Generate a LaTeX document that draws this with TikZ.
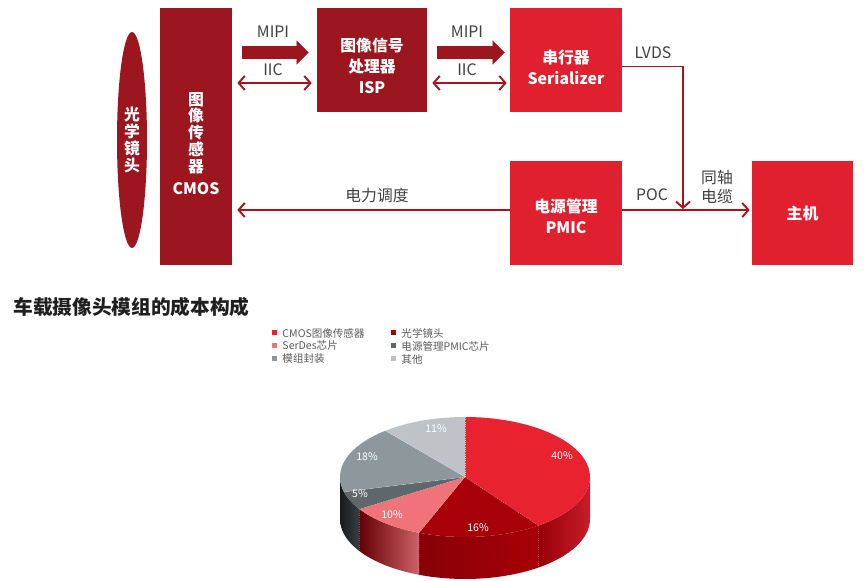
\documentclass[tikz,border=0pt]{standalone}
\usepackage{fontspec}
\setmainfont{Noto Sans CJK SC}
\usepackage{tikz}
\usetikzlibrary{positioning,shapes.geometric,arrows.meta,calc}

\definecolor{darkred}{HTML}{9C1620}
\definecolor{brightred}{HTML}{E0202E}
\definecolor{linered}{HTML}{A8141E}
\definecolor{labelgray}{HTML}{404040}
\definecolor{leggray}{HTML}{5A5A5A}
\definecolor{pieA}{HTML}{E8232F}
\definecolor{pieB}{HTML}{A80008}
\definecolor{pieC}{HTML}{F0737A}
\definecolor{pieD}{HTML}{5E686C}
\definecolor{pieE}{HTML}{8E979B}
\definecolor{pieF}{HTML}{BEC3C7}

\begin{document}
\begin{tikzpicture}[x=0.02cm, y=0.02cm,
  darkbox/.style={fill=darkred, inner sep=0pt},
  redbox/.style={fill=brightred, minimum width=2.24cm, minimum height=2.08cm, inner sep=0pt},
  boxtext/.style={text=white, align=center, font=\bfseries\fontsize{9}{11.8}\selectfont},
  fatarrow/.style={draw=darkred, line width=7.9pt, -{Triangle[length=6.8pt,width=13.6pt,line width=0.01pt]}},
  thinline/.style={draw=linered, line width=1.1pt},
  barb/.tip={Straight Barb[length=3.5pt,width=8pt]},
  sig/.style={text=labelgray, align=center, font=\fontsize{9}{11.3}\selectfont},
  legsq/.style={minimum size=0.1cm, inner sep=0pt},
  legtext/.style={text=leggray, inner sep=0pt, font=\fontsize{6}{7}\selectfont},
  pct/.style={text=white, font=\fontsize{6}{7}\selectfont}]

\useasboundingbox (0,0) rectangle (865,581);

% camera module
\node[ellipse, fill=darkred, minimum width=0.6cm, minimum height=4.32cm, inner sep=0pt,
      boxtext, font=\bfseries\fontsize{9}{9.6}\selectfont] (lens) at (132,441) {光\\学\\镜\\头};
\node[darkbox, minimum width=1.44cm, minimum height=5.14cm] (cmos) at (196,444.5) {};
\node[boxtext, font=\bfseries\fontsize{9}{9.6}\selectfont] (cmoslbl) at (196,437.5) {图\\像\\传\\感\\器\\[3pt]CMOS};
\node[darkbox, minimum width=2.2cm, minimum height=2.08cm] (isp) at (372,521) {};
\node[boxtext] (isplbl) at ($(isp)+(0,-6)$) {图像信号\\处理器\\ISP};
\node[redbox] (ser) at (566,521) {};
\node[boxtext] (serlbl) at ($(ser)+(0,-7)$) {串行器\\Serializer};
\node[redbox] (pmic) at (566,368) {};
\node[boxtext] (pmiclbl) at ($(pmic)+(0,-3)$) {电源管理\\PMIC};
\node[redbox, minimum width=2.02cm, boxtext] (host) at (802.5,368) {主机};

% links
\draw[fatarrow] ($(cmos.east |- isp.west)+(10,7.5)$) -- ($(isp.west)+(-8,7.5)$);
\draw[fatarrow] ($(isp.east)+(10,7.5)$) -- ($(ser.west)+(-5,7.5)$);
\draw[thinline, barb-barb] ($(cmos.east |- isp.west)+(5,-23)$) -- ($(isp.west)+(-5,-23)$);
\draw[thinline, barb-barb] ($(isp.east)+(5,-23)$) -- ($(ser.west)+(-3,-23)$);
\coordinate (join) at (683,372);
\draw[thinline, -barb] ($(ser.east)+(0,-6.5)$) -| (join);
\draw[thinline, -barb] ($(pmic.east)+(0,3)$) -- ($(host.west)+(-2,3)$);
\draw[thinline, -barb] ($(pmic.west)+(0,3)$) -- ($(pmic.west -| cmos.east)+(5,3)$);

\node[sig] (mipi1) at (273,549) {MIPI};
\node[sig] (mipi2) at (467,549) {MIPI};
\node[sig] (iic1) at (273,511) {IIC};
\node[sig] (iic2) at (467,511) {IIC};
\node[sig] (lvds) at (653,528) {LVDS};
\node[sig] (poc) at (652,386) {POC};
\node[sig] (coax) at (717,394) {同轴\\电缆};
\node[sig] (power) at (377,386) {电力调度};

% cost breakdown
\node[anchor=west, inner sep=0pt, text=black!88, font=\bfseries\fontsize{11.2}{13}\selectfont] (title) at (13,274) {车载摄像头模组的成本构成};

\node[legsq, fill=pieA] (sq1) at (274,248) {};
\node[legtext, right=3pt of sq1] (lg1) {CMOS图像传感器};
\node[legsq, fill=pieB] (sq2) at (393,248) {};
\node[legtext, right=3pt of sq2] (lg2) {光学镜头};
\node[legsq, fill=pieC] (sq3) at (274,235) {};
\node[legtext, right=3pt of sq3] (lg3) {SerDes芯片};
\node[legsq, fill=pieD] (sq4) at (393,235) {};
\node[legtext, right=3pt of sq4] (lg4) {电源管理PMIC芯片};
\node[legsq, fill=pieE] (sq5) at (274,222) {};
\node[legtext, right=3pt of sq5] (lg5) {模组封装};
\node[legsq, fill=pieF] (sq6) at (393,222) {};
\node[legtext, right=3pt of sq6] (lg6) {其他};

\begin{scope}[shift={(465,104)}]
  % sides
  \shade[left color=pieB!90!black, right color=pieA!85!black]
    plot[domain=-54:0, samples=20] ({125*cos(\x)},{60*sin(\x)}) --
    plot[domain=0:-54, samples=20] ({125*cos(\x)},{60*sin(\x)-42}) -- cycle;
  \shade[left color=pieB!80!black, right color=pieB]
    plot[domain=-111.6:-54, samples=20] ({125*cos(\x)},{60*sin(\x)}) --
    plot[domain=-54:-111.6, samples=20] ({125*cos(\x)},{60*sin(\x)-42}) -- cycle;
  \shade[left color=pieB!60!black, right color=pieC!85!black]
    plot[domain=-147.6:-111.6, samples=20] ({125*cos(\x)},{60*sin(\x)}) --
    plot[domain=-111.6:-147.6, samples=20] ({125*cos(\x)},{60*sin(\x)-42}) -- cycle;
  \shade[left color=black!90, right color=pieD!60!black]
    plot[domain=-180:-147.6, samples=20] ({125*cos(\x)},{60*sin(\x)}) --
    plot[domain=-147.6:-180, samples=20] ({125*cos(\x)},{60*sin(\x)-42}) -- cycle;
  % top face
  \fill[pieA] (0,0) -- plot[domain=90:-54, samples=40] ({125*cos(\x)},{60*sin(\x)}) -- cycle;
  \fill[pieB] (0,0) -- plot[domain=-54:-111.6, samples=20] ({125*cos(\x)},{60*sin(\x)}) -- cycle;
  \fill[pieC] (0,0) -- plot[domain=-111.6:-147.6, samples=20] ({125*cos(\x)},{60*sin(\x)}) -- cycle;
  \fill[pieD] (0,0) -- plot[domain=-147.6:-165.6, samples=10] ({125*cos(\x)},{60*sin(\x)}) -- cycle;
  \fill[pieE] (0,0) -- plot[domain=194.4:129.6, samples=20] ({125*cos(\x)},{60*sin(\x)}) -- cycle;
  \fill[pieF] (0,0) -- plot[domain=129.6:90, samples=20] ({125*cos(\x)},{60*sin(\x)}) -- cycle;
  % seams
  \foreach \a in {-54,-111.6,-147.6} {
    \draw[white, opacity=0.6, line width=0.3pt, densely dotted]
      (0,0) -- ({125*cos(\a)},{60*sin(\a)}) -- ({125*cos(\a)},{60*sin(\a)-42});
  }
  \foreach \a in {90,129.6,194.4} {
    \draw[white, opacity=0.6, line width=0.3pt, densely dotted] (0,0) -- ({125*cos(\a)},{60*sin(\a)});
  }
  \node[pct] (p40) at (97,21) {40\%};
  \node[pct] (p16) at (13,-51) {16\%};
  \node[pct] (p10) at (-73,-38) {10\%};
  \node[pct] (p5) at (-105,-17) {5\%};
  \node[pct] (p18) at (-98,20) {18\%};
  \node[pct] (p11) at (-29,48) {11\%};
\end{scope}
\end{tikzpicture}
\end{document}
